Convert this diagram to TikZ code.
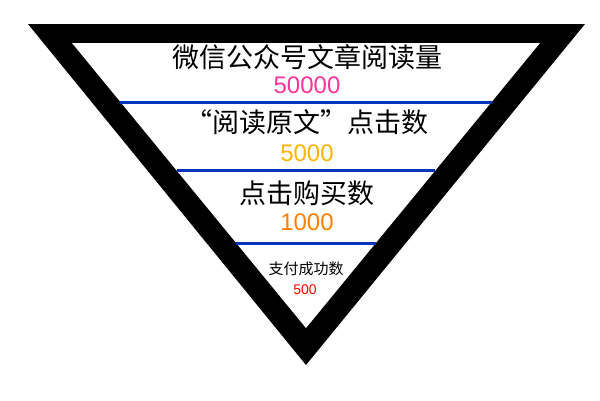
\documentclass[tikz,border=0pt]{standalone}
\usepackage{fontspec}
\setmainfont{Liberation Sans}
\newfontfamily\cjk{Noto Sans CJK SC}
\usepackage{xcolor}
\usetikzlibrary{calc}
\definecolor{sepblue}{HTML}{0033BB}
\definecolor{readpink}{HTML}{FF3399}
\definecolor{clickgold}{HTML}{FFB400}
\definecolor{buyorange}{HTML}{FF8000}
\definecolor{payred}{HTML}{FF0000}

\begin{document}
\begin{tikzpicture}[
  x=1pt, y=-1pt,
  stage/.style={font=\cjk\fontsize{27}{30}\selectfont, inner sep=0pt},
  small/.style={font=\cjk\fontsize{15}{17}\selectfont, inner sep=0pt},
  num/.style={font=\fontsize{24}{26}\selectfont, inner sep=0pt},
  sep/.style={draw=sepblue, line width=3pt}
]
\useasboundingbox (0,0) rectangle (600,400);
% funnel frame
\coordinate (oL) at (28,24);
\coordinate (oR) at (585,24);
\coordinate (oB) at (306,365);
\coordinate (iL) at (72,43);
\coordinate (iR) at (540,43);
\coordinate (iB) at (306,328);
\fill[black] (oL) -- (oR) -- (oB) -- cycle;
\fill[white] (iL) -- (iR) -- (iB) -- cycle;

% separators
\foreach \f [count=\i] in {0.207,0.449,0.702}{
  \coordinate (s\i l) at ($(iL)!\f!(iB)$);
  \coordinate (s\i r) at ($(iR)!\f!(iB)$);
  \draw[sep] (s\i l) -- (s\i r);
}

% stages
\node[stage] (read)   at (307,57)    {微信公众号文章阅读量};
\node[num, text=readpink]   (readn)  at (307,85.5)  {50000};
\node[stage] (click)  at (307,122.5) {“阅读原文”点击数};
\node[num, text=clickgold]  (clickn) at (307,153)   {5000};
\node[stage] (buy)    at (307,193.5) {点击购买数};
\node[num, text=buyorange]  (buyn)   at (307,222.5) {1000};
\node[small] (pay)    at (306,269)   {支付成功数};
\node[num, text=payred, font=\fontsize{14}{16}\selectfont] (payn) at (305,290) {500};
\end{tikzpicture}
\end{document}
